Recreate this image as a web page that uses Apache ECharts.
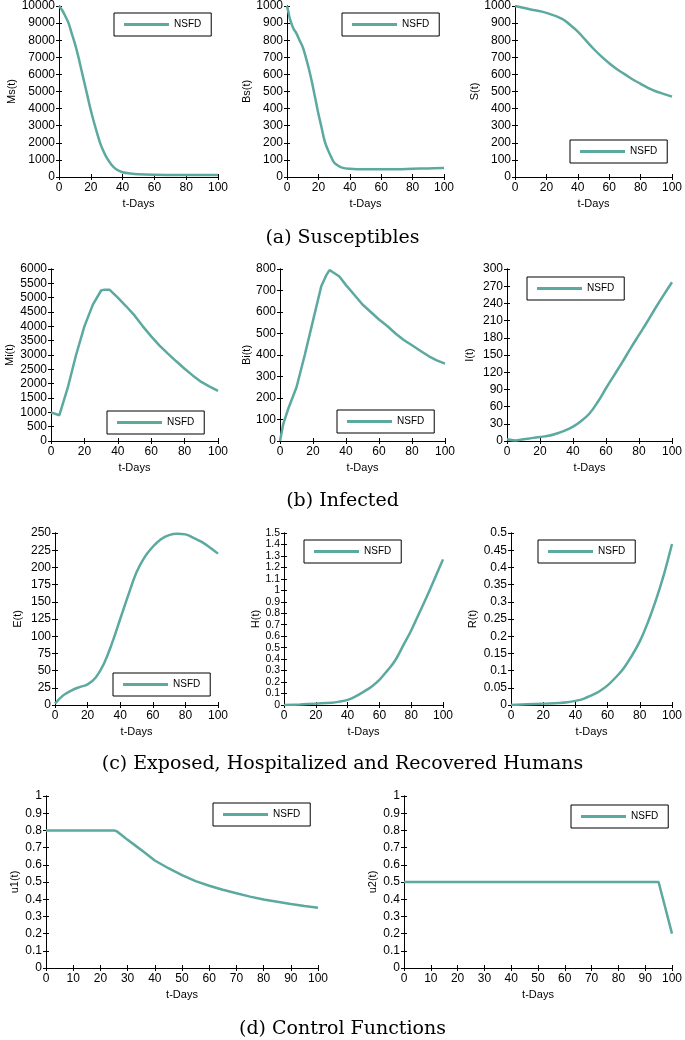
<!DOCTYPE html>
<html>
<head>
<meta charset="utf-8">
<script src="https://cdn.jsdelivr.net/npm/echarts@6/dist/echarts.min.js"></script>
<style>
html,body{margin:0;padding:0;background:#fff;}
#chart{width:685px;height:1040px;}
</style>
</head>
<body>
<div id="chart"></div>
<script>
// ---------- data ----------
const seriesName = 'NSFD';
const captions = ['(a) Susceptibles', '(b) Infected', '(c) Exposed, Hospitalized and Recovered Humans', '(d) Control Functions'];

const tMs = [0,2,4,6,8,10,12,14,16,18,20,22,24,26,28,30,33,36,40,45,50,60,70,80,90,100];
const Ms  = [10000,9750,9400,9000,8400,7800,7100,6300,5500,4700,3900,3200,2550,1950,1500,1130,720,450,280,200,160,130,120,115,110,110];

const tBs = [0,1,2,4,6,8,10,12,14,16,18,20,22,24,26,28,30,32,35,40,50,60,70,80,90,100];
const Bs  = [1000,960,920,870,840,800,760,700,630,550,460,370,290,210,160,120,85,70,55,48,45,45,45,48,50,52];

const tS = [0,10,20,30,35,40,45,50,55,60,65,70,75,80,85,90,95,100];
const S  = [1000,980,960,925,890,850,800,750,705,665,630,600,570,545,520,500,485,470];

const tMi = [0,5,10,15,20,25,30,32,35,40,45,50,55,60,65,70,75,80,85,90,95,100];
const Mi  = [1000,900,1850,3000,4000,4750,5250,5280,5280,5000,4700,4380,4000,3650,3330,3050,2780,2520,2280,2060,1900,1750];

const tBi = [0,2,5,10,15,20,25,28,30,33,36,40,45,50,55,60,65,70,75,80,85,90,95,100];
const Bi  = [0,80,150,250,400,560,720,770,795,780,765,725,680,635,600,565,535,500,470,445,420,395,375,360];

const tI = [0,5,10,15,20,25,30,35,40,45,50,55,60,65,70,75,80,85,90,95,100];
const I  = [3,1,3,5,7,9,13,18,25,35,48,68,92,115,138,162,185,208,232,255,277];

const tE = [0,5,10,15,20,25,30,35,40,45,50,55,60,65,70,75,80,85,90,95,100];
const E  = [2,14,21,26,30,40,60,90,125,160,193,215,230,241,247,249,248,243,237,229,220];

const tH = [0,10,20,30,35,40,45,50,55,60,65,70,75,80,85,90,95,100];
const H  = [0,0.005,0.012,0.02,0.03,0.045,0.075,0.115,0.16,0.22,0.3,0.39,0.52,0.65,0.8,0.95,1.11,1.27];

const tR = [0,10,20,30,35,40,45,50,55,60,65,70,75,80,85,90,95,100];
const R  = [0,0.002,0.004,0.006,0.008,0.012,0.018,0.028,0.04,0.057,0.08,0.107,0.143,0.185,0.24,0.305,0.38,0.468];

const tU1 = [0,25,26,28,30,33,36,40,45,50,55,60,65,70,75,80,85,90,95,100];
const U1  = [0.8,0.8,0.795,0.77,0.745,0.71,0.675,0.625,0.58,0.54,0.505,0.478,0.455,0.435,0.415,0.398,0.385,0.372,0.36,0.35];

const tU2 = [0,95,100];
const U2  = [0.5,0.5,0.2];

// ---------- panel layout ----------
const panels = [
  {name:'Ms(t)', t:tMs, y:Ms, ymax:10000, yint:1000, xint:20, smooth:true, lab:12,
   grid:{left:59, top:5, width:159, height:172}, yGap:42, legend:{left:114, top:13}},
  {name:'Bs(t)', t:tBs, y:Bs, ymax:1000, yint:100, xint:20, smooth:true, lab:12,
   grid:{left:287, top:5, width:157, height:172}, yGap:35, legend:{left:342, top:13}},
  {name:'S(t)', t:tS, y:S, ymax:1000, yint:100, xint:20, smooth:true, lab:12,
   grid:{left:515, top:5, width:158, height:172}, yGap:35, legend:{left:570, top:140}},
  {name:'Mi(t)', t:tMi, y:Mi, ymax:6000, yint:500, xint:20, smooth:false, lab:12,
   grid:{left:51, top:269, width:167, height:172}, yGap:36, legend:{left:107, top:411}},
  {name:'Bi(t)', t:tBi, y:Bi, ymax:800, yint:100, xint:20, smooth:false, lab:12,
   grid:{left:280, top:269, width:165, height:172}, yGap:28, legend:{left:337, top:410}},
  {name:'I(t)', t:tI, y:I, ymax:300, yint:30, xint:20, smooth:true, lab:12,
   grid:{left:507, top:269, width:166, height:172}, yGap:32, legend:{left:527, top:277}},
  {name:'E(t)', t:tE, y:E, ymax:250, yint:25, xint:20, smooth:true, lab:12,
   grid:{left:55, top:533, width:163, height:172}, yGap:32, legend:{left:113, top:673}},
  {name:'H(t)', t:tH, y:H, ymax:1.5, yint:0.1, xint:20, smooth:true, lab:10.5,
   grid:{left:284, top:533, width:159, height:172}, yGap:23, legend:{left:304, top:540}},
  {name:'R(t)', t:tR, y:R, ymax:0.5, yint:0.05, xint:20, smooth:true, lab:12,
   grid:{left:511, top:533, width:162, height:172}, yGap:33, legend:{left:538, top:540}},
  {name:'u1(t)', t:tU1, y:U1, ymax:1, yint:0.1, xint:10, smooth:false, lab:12,
   grid:{left:46, top:796, width:272, height:172}, yGap:26, legend:{left:213, top:803}},
  {name:'u2(t)', t:tU2, y:U2, ymax:1, yint:0.1, xint:10, smooth:false, lab:12,
   grid:{left:404, top:796, width:271, height:172}, yGap:26, legend:{left:571, top:805}}
];
const captionTops = [236, 499, 762, 1027];

const lineColor = '#5ca99f';
const sans = '"Liberation Sans", Arial, sans-serif';
const fmt = v => String(+(+v).toFixed(6));
const grids = [], xAxes = [], yAxes = [], series = [], legends = [], titles = [];

panels.forEach((p, i) => {
  grids.push(Object.assign({containLabel:false}, p.grid));
  const axLine = {show:true, lineStyle:{color:'#000', width:1}};
  const tick = {show:true, inside:true, length:3, lineStyle:{color:'#000', width:1}};
  xAxes.push({type:'value', gridIndex:i, min:0, max:100, interval:p.xint, position:'bottom',
    axisLine:axLine, axisTick:tick, splitLine:{show:false},
    axisLabel:{color:'#000', fontSize:12, fontFamily:sans, margin:5, formatter:fmt,
      showMinLabel:true, showMaxLabel:true, hideOverlap:false},
    name:'t-Days', nameLocation:'middle', nameGap:21,
    nameTextStyle:{color:'#000', fontSize:11, fontFamily:sans}});
  xAxes.push({type:'value', gridIndex:i, min:0, max:100, interval:p.xint, position:'top',
    axisLine:axLine, axisTick:tick, splitLine:{show:false}, axisLabel:{show:false}});
  yAxes.push({type:'value', gridIndex:i, min:0, max:p.ymax, interval:p.yint, position:'left',
    axisLine:axLine, axisTick:tick, splitLine:{show:false},
    axisLabel:{color:'#000', fontSize:p.lab, fontFamily:sans, margin:4, formatter:fmt,
      showMinLabel:true, showMaxLabel:true, hideOverlap:false},
    name:p.name, nameLocation:'middle', nameGap:p.yGap,
    nameTextStyle:{color:'#000', fontSize:11, fontFamily:sans}});
  yAxes.push({type:'value', gridIndex:i, min:0, max:p.ymax, interval:p.yint, position:'right',
    axisLine:axLine, axisTick:tick, splitLine:{show:false}, axisLabel:{show:false}});
  series.push({type:'line', name:seriesName, xAxisIndex:2*i, yAxisIndex:2*i,
    data:p.t.map((x, k) => [x, p.y[k]]), symbol:'none', showSymbol:false,
    smooth:p.smooth ? 0.4 : false,
    lineStyle:{color:lineColor, width:2.5}, itemStyle:{color:lineColor}, animation:false});
  legends.push({data:[seriesName], left:p.legend.left, top:p.legend.top, orient:'horizontal',
    backgroundColor:'#fff', borderColor:'#000', borderWidth:1, borderRadius:0,
    padding:[6, 10], itemWidth:45, itemHeight:3, icon:'rect', selectedMode:false,
    textStyle:{color:'#000', fontSize:10, fontFamily:sans, lineHeight:11}});
});

captions.forEach((c, i) => {
  titles.push({text:c, left:'center', top:captionTops[i] - 12,
    textStyle:{fontFamily:'"DejaVu Serif", "Liberation Serif", serif', fontSize:19, fontWeight:'normal', color:'#000'}});
});

const chart = echarts.init(document.getElementById('chart'), null, {renderer:'canvas'});
chart.setOption({
  animation:false,
  backgroundColor:'#fff',
  title:titles,
  grid:grids,
  xAxis:xAxes,
  yAxis:yAxes,
  legend:legends,
  series:series
});
</script>
</body>
</html>
